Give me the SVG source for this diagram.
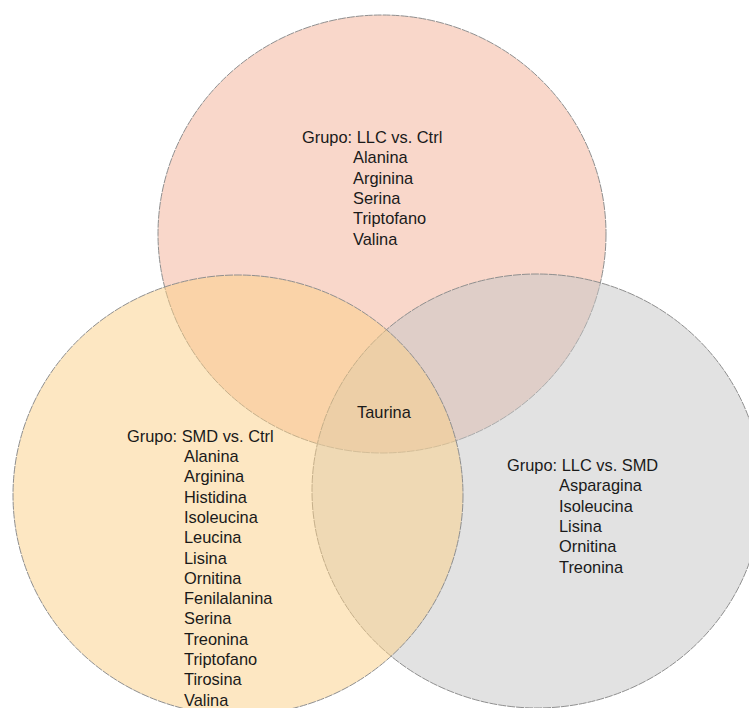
<svg xmlns="http://www.w3.org/2000/svg" width="749" height="708" viewBox="0 0 749 708">
<style>
.set{stroke:#8f8f8f;stroke-width:1;stroke-dasharray:8 1;fill-opacity:0.5}
text{font-family:"Liberation Sans",Arial,sans-serif;font-size:16.4px;fill:#1a1a1a}
</style>
<rect width="749" height="708" fill="#ffffff"/>
<g id="set-llc-ctrl"><ellipse class="set" cx="382" cy="234" rx="224" ry="219" fill="#F3AF96"/></g>
<g id="set-llc-smd"><ellipse class="set" cx="537" cy="491" rx="225" ry="217" fill="#C6C6C6"/></g>
<g id="set-smd-ctrl"><ellipse class="set" cx="238" cy="495" rx="225" ry="220" fill="#FBD085"/></g>
<g id="label-llc-ctrl">
<text x="302" y="143">Grupo: LLC vs. Ctrl</text>
<text x="353" y="163.3">Alanina</text>
<text x="353" y="183.6">Arginina</text>
<text x="353" y="203.9">Serina</text>
<text x="353" y="224.2">Triptofano</text>
<text x="353" y="244.5">Valina</text>
</g>
<g id="label-center"><text x="357" y="418">Taurina</text></g>
<g id="label-smd-ctrl">
<text x="127" y="441.7">Grupo: SMD vs. Ctrl</text>
<text x="184" y="462">Alanina</text>
<text x="184" y="482.3">Arginina</text>
<text x="184" y="502.6">Histidina</text>
<text x="184" y="522.9">Isoleucina</text>
<text x="184" y="543.2">Leucina</text>
<text x="184" y="563.5">Lisina</text>
<text x="184" y="583.8">Ornitina</text>
<text x="184" y="604.1">Fenilalanina</text>
<text x="184" y="624.4">Serina</text>
<text x="184" y="644.7">Treonina</text>
<text x="184" y="665">Triptofano</text>
<text x="184" y="685.3">Tirosina</text>
<text x="184" y="705.6">Valina</text>
</g>
<g id="label-llc-smd">
<text x="507" y="471">Grupo: LLC vs. SMD</text>
<text x="559" y="491.3">Asparagina</text>
<text x="559" y="511.6">Isoleucina</text>
<text x="559" y="531.9">Lisina</text>
<text x="559" y="552.2">Ornitina</text>
<text x="559" y="572.5">Treonina</text>
</g>
<g id="connectors"></g>
</svg>
